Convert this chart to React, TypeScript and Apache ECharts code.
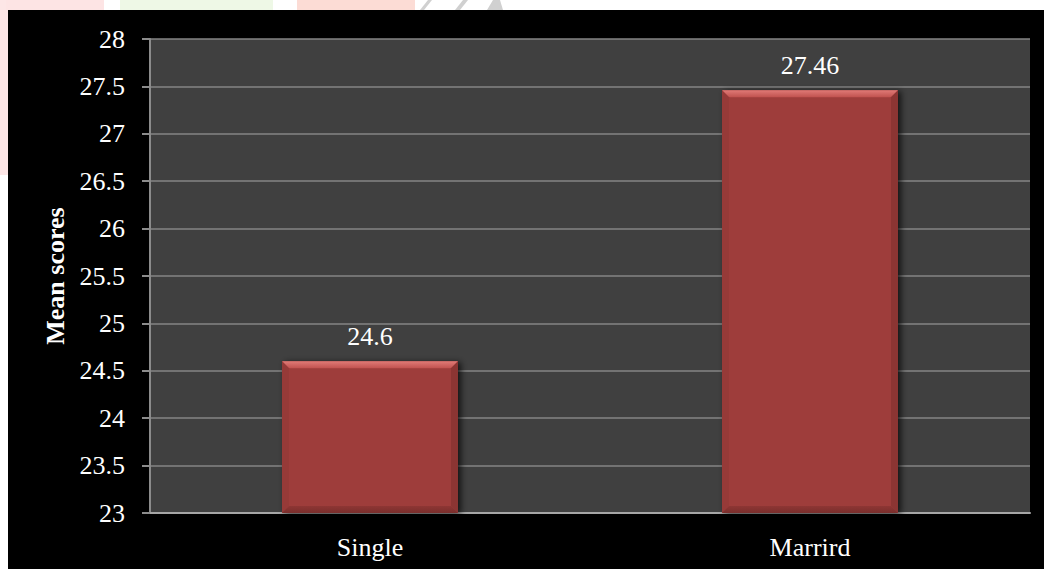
import React, { useEffect, useRef } from "react";
import * as echarts from "echarts";

// Mean scores by marital status
const categories = ["Single", "Marrird"];
const meanScores = [24.6, 27.46];
const axisMin = 23;
const axisMax = 28;
const axisStep = 0.5;

const SERIF = "Times New Roman";

export default function App() {
  const ref = useRef<HTMLDivElement>(null);

  useEffect(() => {
    if (!ref.current) return;
    const chart = echarts.init(ref.current, null, { renderer: "svg" });

    const bevel = 7;

    chart.setOption({
      animation: false,
      backgroundColor: "#ffffff",
      graphic: [
        // faint page decoration behind the chart panel
        { type: "rect", shape: { x: 0, y: 0, width: 8, height: 175 }, style: { fill: "#fde6e6" }, z: -10 },
        { type: "rect", shape: { x: 6, y: 0, width: 98, height: 10 }, style: { fill: "#fde4e4" }, z: -10 },
        { type: "rect", shape: { x: 120, y: 0, width: 153, height: 10 }, style: { fill: "#eef8e6" }, z: -10 },
        { type: "rect", shape: { x: 297, y: 0, width: 118, height: 10 }, style: { fill: "#fcdcd5" }, z: -10 },
        { type: "polygon", shape: { points: [[420, 10], [428, 0], [432, 0], [424, 10]] }, style: { fill: "#d0d0d0" }, z: -10 },
        { type: "polygon", shape: { points: [[455, 10], [463, 0], [468, 0], [460, 10]] }, style: { fill: "#d0d0d0" }, z: -10 },
        { type: "polygon", shape: { points: [[487, 10], [493, 0], [500, 0], [503, 10]] }, style: { fill: "#d0d0d0" }, z: -10 },
        // black chart panel
        { type: "rect", shape: { x: 8, y: 10, width: 1036, height: 559 }, style: { fill: "#000000" }, z: -5 },
      ],
      grid: {
        left: 150,
        right: 14,
        top: 39,
        bottom: 56,
        show: true,
        backgroundColor: "#404040",
        borderWidth: 0,
      },
      xAxis: {
        type: "category",
        data: categories,
        axisTick: { show: false },
        axisLine: { show: true, lineStyle: { color: "#a6a6a6", width: 2 } },
        axisLabel: { color: "#ffffff", fontFamily: SERIF, fontSize: 26, margin: 21 },
        splitLine: { show: false },
      },
      yAxis: {
        type: "value",
        min: axisMin,
        max: axisMax,
        interval: axisStep,
        name: "Mean scores",
        nameLocation: "middle",
        nameRotate: 90,
        nameGap: 82,
        nameTextStyle: { color: "#ffffff", fontFamily: SERIF, fontSize: 26, fontWeight: "bold" },
        axisLine: { show: true, lineStyle: { color: "#8c8c8c", width: 2 } },
        axisTick: { show: true, length: 8, lineStyle: { color: "#8c8c8c", width: 2 } },
        axisLabel: { color: "#ffffff", fontFamily: SERIF, fontSize: 26, margin: 25 },
        splitLine: { show: true, lineStyle: { color: "#858585", width: 1.5 } },
      },
      series: [
        {
          type: "bar",
          data: meanScores,
          barWidth: "40%",
          itemStyle: {
            color: "#9e3d3b",
            shadowColor: "rgba(0,0,0,0.7)",
            shadowBlur: 6,
            shadowOffsetX: 3,
            shadowOffsetY: 1,
          },
          label: {
            show: true,
            position: "top",
            distance: 12,
            color: "#ffffff",
            fontFamily: SERIF,
            fontSize: 26,
          },
          z: 2,
        },
        {
          // bevelled edges over each bar
          type: "custom",
          data: meanScores.map((v, i) => [i, v]),
          z: 3,
          silent: true,
          renderItem: (params: any, api: any) => {
            const idx = api.value(0);
            const val = api.value(1);
            const top = api.coord([idx, val]);
            const base = api.coord([idx, axisMin]);
            const w = api.size([1, 0])[0] * 0.4;
            const x0 = top[0] - w / 2;
            const x1 = top[0] + w / 2;
            const yT = top[1];
            const yB = base[1];
            const b = bevel;
            return {
              type: "group",
              children: [
                {
                  type: "polygon",
                  shape: { points: [[x0, yT], [x1, yT], [x1 - b, yT + b], [x0 + b, yT + b]] },
                  style: {
                    fill: new echarts.graphic.LinearGradient(0, 0, 0, 1, [
                      { offset: 0, color: "#e07a76" },
                      { offset: 1, color: "#c0524f" },
                    ]),
                  },
                },
                {
                  type: "polygon",
                  shape: { points: [[x0, yT], [x0 + b, yT + b], [x0 + b, yB - b], [x0, yB]] },
                  style: { fill: "#963a38" },
                },
                {
                  type: "polygon",
                  shape: { points: [[x1, yT], [x1, yB], [x1 - b, yB - b], [x1 - b, yT + b]] },
                  style: { fill: "#8c3533" },
                },
                {
                  type: "polygon",
                  shape: { points: [[x0, yB], [x0 + b, yB - b], [x1 - b, yB - b], [x1, yB]] },
                  style: {
                    fill: new echarts.graphic.LinearGradient(0, 0, 0, 1, [
                      { offset: 0, color: "#8e3634" },
                      { offset: 1, color: "#7a2e2c" },
                    ]),
                  },
                },
              ],
            };
          },
        },
      ],
    });

    return () => chart.dispose();
  }, []);

  return (
    <div
      ref={ref}
      style={{ position: "absolute", left: 0, top: 0, width: 1044, height: 569 }}
    />
  );
}
